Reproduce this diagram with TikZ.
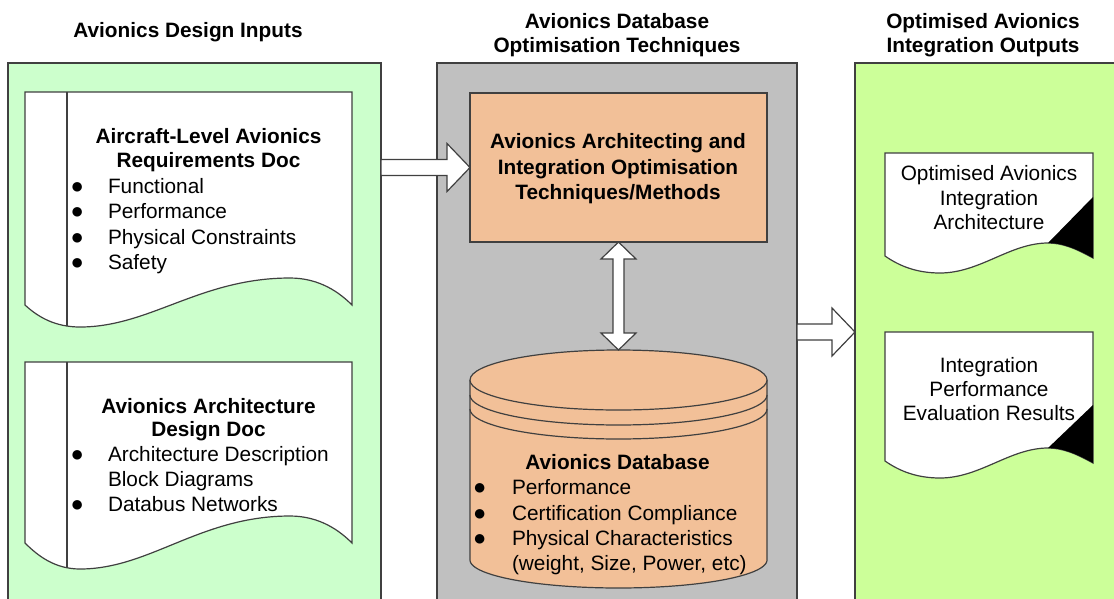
\documentclass[tikz,border=0pt]{standalone}
\usepackage{fontspec}
\setmainfont{Liberation Sans}
\usetikzlibrary{calc}
\definecolor{inputgreen}{HTML}{CCFFCC}
\definecolor{outputgreen}{HTML}{CCFF99}
\definecolor{techgray}{HTML}{C0C0C0}
\definecolor{techorange}{HTML}{F2C098}
\definecolor{edge}{HTML}{404040}

% horizontal block arrow from tail #1 to tip #2 (same height)
\newcommand\hblockarrow[2]{%
  \draw[blockarrow] let \p1=(#1), \p2=(#2) in
    (\x1,\y1+8pt) -- (\x2-23pt,\y1+8pt) -- (\x2-23pt,\y1+24pt) -- (\x2,\y1)
    -- (\x2-23pt,\y1-24pt) -- (\x2-23pt,\y1-8pt) -- (\x1,\y1-8pt) -- cycle;}

\begin{document}
\begin{tikzpicture}[x=1pt,y=-1pt,
  every node/.style={inner sep=0pt, outer sep=0pt},
  outline/.style={draw=edge, line width=1.2pt, line join=miter},
  panel/.style={outline, anchor=north west, minimum height=560pt},
  docpage/.style={outline, fill=white},
  blockarrow/.style={outline, fill=white},
  hd/.style={font=\fontsize{20.8}{25}\selectfont\bfseries, anchor=base},
  tx/.style={font=\fontsize{20.8}{25}\selectfont, anchor=base},
  li/.style={font=\fontsize{20.8}{25}\selectfont, anchor=base west},
  bu/.style={font=\fontsize{22}{25}\selectfont, anchor=base west, xshift=-2.5pt},
]
\useasboundingbox (0,0) rectangle (1114,598);
\clip (0,0) rectangle (1114,598);

% ---- column panels ----
\node[panel, fill=inputgreen, minimum width=373pt] (inputs) at (8,63) {};
\node[panel, fill=techgray, minimum width=360pt] (techniques) at (437,63) {};
\node[panel, fill=outputgreen, minimum width=280pt] (outputs) at (855,63) {};

% ---- column headings ----
\node[hd] (h-in) at (188,37) {Avionics Design Inputs};
\node[hd] (h-tech1) at (617,28) {Avionics Database};
\node[hd] (h-tech2) at (617,52) {Optimisation Techniques};
\node[hd] (h-out1) at (983,28) {Optimised Avionics};
\node[hd] (h-out2) at (983,52) {Integration Outputs};

% ---- input documents ----
\draw[docpage] (25,92) -- (352,92) -- (352,305)
  .. controls (340,293) and (320,278) .. (290,278)
  .. controls (200,278) and (150,327) .. (80,327)
  .. controls (55,327) and (38,317) .. (25,305) -- cycle;
\draw[outline] (67,92) -- (67,326);

\draw[docpage] (25,362) -- (352,362) -- (352,543)
  .. controls (340,531) and (320,516) .. (290,516)
  .. controls (200,516) and (150,569) .. (80,569)
  .. controls (55,569) and (38,556) .. (25,543) -- cycle;
\draw[outline] (67,362) -- (67,568);

\node[hd] (req-t1) at (208.5,143) {Aircraft-Level Avionics};
\node[hd] (req-t2) at (208.5,167) {Requirements Doc};
\foreach \y/\t [count=\i] in {193/Functional, 218.5/Performance,
    244/Physical Constraints, 269.5/Safety} {
  \node[bu] (req-b\i) at (73,\y) {●};
  \node[li] (req-i\i) at (108,\y) {\t};
}

\node[hd] (arch-t1) at (208.5,413) {Avionics Architecture};
\node[hd] (arch-t2) at (208.5,436) {Design Doc};
\node[bu] (arch-b1) at (73,461) {●};
\node[li] (arch-i1) at (108,461) {Architecture Description};
\node[li] (arch-i2) at (108,486) {Block Diagrams};
\node[bu] (arch-b3) at (73,511) {●};
\node[li] (arch-i3) at (108,511) {Databus Networks};

% ---- optimisation methods ----
\node[outline, fill=techorange, minimum width=297pt, minimum height=149pt] (tech) at (618.5,167.5) {};
\node[hd] (tech-l1) at (618,148) {Avionics Architecting and};
\node[hd] (tech-l2) at (618,174) {Integration Optimisation};
\node[hd] (tech-l3) at (618,199) {Techniques/Methods};

% ---- database cylinder ----
\fill[techorange] (470,380) -- (470,560)
  -- plot[domain=180:360, samples=60] ({618.5+148.5*cos(\x)},{560-28*sin(\x)})
  -- (767,380) -- cycle;
\draw[outline] (470,380) -- (470,560)
  -- plot[domain=180:360, samples=60] ({618.5+148.5*cos(\x)},{560-28*sin(\x)})
  -- (767,380);
\draw[outline, fill=techorange] (618.5,380) ellipse [x radius=148.5pt, y radius=30pt];
\draw[outline] plot[domain=180:360, samples=60] ({618.5+148.5*cos(\x)},{395-30*sin(\x)});
\draw[outline] plot[domain=180:360, samples=60] ({618.5+148.5*cos(\x)},{409-30*sin(\x)});
\coordinate (dbtop) at (618.5,350);

\node[hd] (db-t) at (617.5,469) {Avionics Database};
\foreach \y/\t [count=\i] in {494/Performance, 520/Certification Compliance,
    545/Physical Characteristics} {
  \node[bu] (db-b\i) at (475.5,\y) {●};
  \node[li] (db-i\i) at (512,\y) {\t};
}
\node[li] (db-i4) at (512,570) {(weight, Size, Power, etc)};

% ---- output documents ----
\draw[docpage] (885,153) -- (1093,153) -- (1093,258)
  .. controls (1075,248) and (1062,243) .. (1048,243)
  .. controls (1010,243) and (980,273) .. (940,273)
  .. controls (915,273) and (898,265) .. (885,256) -- cycle;
\fill[black] (1093,197) -- (1093,258)
  .. controls (1075,248) and (1062,243) .. (1048,243) -- cycle;

\draw[docpage] (885,332) -- (1093,332) -- (1093,463)
  .. controls (1075,453) and (1062,448) .. (1048,448)
  .. controls (1010,448) and (980,478) .. (940,478)
  .. controls (915,478) and (898,470) .. (885,461) -- cycle;
\fill[black] (1093,405) -- (1093,463)
  .. controls (1075,453) and (1062,448) .. (1048,448) -- cycle;

\node[tx] (arch-o1) at (989,180) {Optimised Avionics};
\node[tx] (arch-o2) at (989,205) {Integration};
\node[tx] (arch-o3) at (989,229) {Architecture};
\node[tx] (perf-o1) at (989,372) {Integration};
\node[tx] (perf-o2) at (989,396) {Performance};
\node[tx] (perf-o3) at (989,420) {Evaluation Results};

% ---- block arrows ----
\hblockarrow{inputs.east |- tech.west}{tech.west}
\coordinate (lvl) at (0,332);
\hblockarrow{techniques.east |- lvl}{outputs.west |- lvl}
\draw[blockarrow] let \p1=(tech.south), \p2=(dbtop) in
  (\x1,\y1) -- (\x1+17.5pt,\y1-17pt) -- (\x1+5.5pt,\y1-17pt) -- (\x1+5.5pt,\y2+17pt)
  -- (\x1+17.5pt,\y2+17pt) -- (\x1,\y2) -- (\x1-17.5pt,\y2+17pt) -- (\x1-5.5pt,\y2+17pt)
  -- (\x1-5.5pt,\y1-17pt) -- (\x1-17.5pt,\y1-17pt) -- cycle;
\end{tikzpicture}
\end{document}
